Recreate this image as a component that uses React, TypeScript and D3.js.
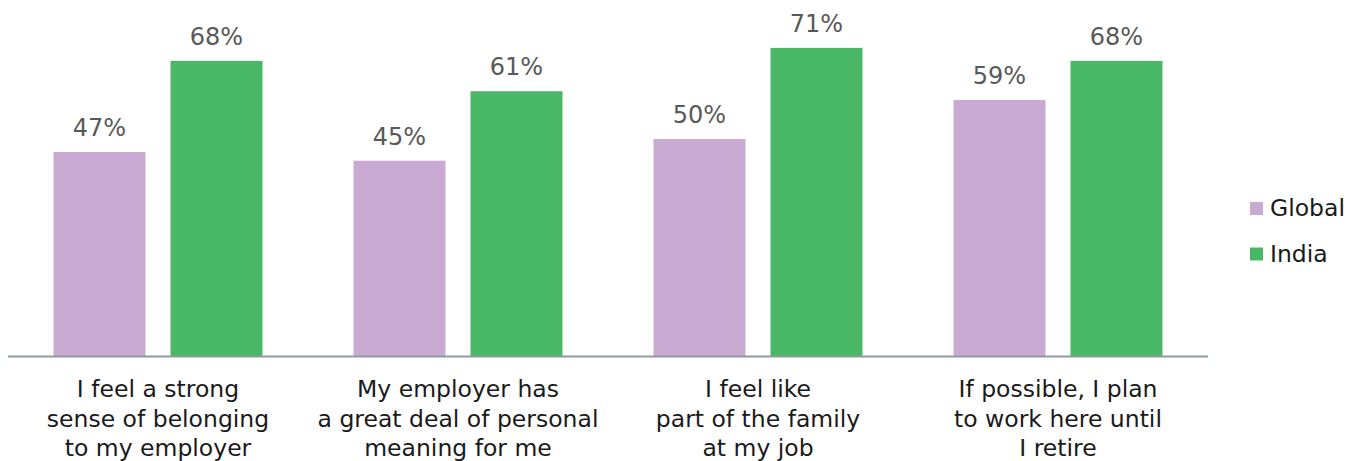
import React from "react";
import * as d3 from "d3";

const categories: string[][] = [
  ["I feel a strong", "sense of belonging", "to my employer"],
  ["My employer has", "a great deal of personal", "meaning for me"],
  ["I feel like", "part of the family", "at my job"],
  ["If possible, I plan", "to work here until", "I retire"],
];
const seriesNames = ["Global", "India"];
const globalValues = [47, 45, 50, 59];
const indiaValues = [68, 61, 71, 68];
const colors = ["#c9aad2", "#48b866"];

const W = 1359;
const H = 461;
const FONT = "'DejaVu Sans', Verdana, sans-serif";

export default function App() {
  const x0 = d3.scaleBand<number>().domain(d3.range(categories.length)).range([8, 1208]).padding(0);
  const x1 = d3
    .scaleBand<string>()
    .domain(seriesNames)
    .range([0, x0.bandwidth()])
    .paddingInner(0.2137)
    .paddingOuter(0.389);
  const y = d3.scaleLinear().domain([0, 80]).range([356, 8.8]);
  const values = [globalValues, indiaValues];

  return (
    <svg
      width={W}
      height={H}
      style={{ position: "absolute", left: 0, top: 0, display: "block" }}
      fontFamily={FONT}
    >
      <rect width={W} height={H} fill="#fff" />
      {categories.map((lines, i) => (
        <g key={i} transform={`translate(${x0(i)},0)`}>
          {seriesNames.map((s, k) => {
            const v = values[k][i];
            const bx = x1(s)!;
            return (
              <g key={s}>
                <rect x={bx} y={y(v)} width={x1.bandwidth()} height={y(0) - y(v)} fill={colors[k]} />
                <text
                  x={bx + x1.bandwidth() / 2}
                  y={y(v) - 16}
                  textAnchor="middle"
                  fontSize={24}
                  fill="#595959"
                >
                  {v}%
                </text>
              </g>
            );
          })}
          {lines.map((ln, j) => (
            <text
              key={j}
              x={x0.bandwidth() / 2}
              y={397 + j * 29.5}
              textAnchor="middle"
              fontSize={23.5}
              fill="#1a1a1a"
            >
              {ln}
            </text>
          ))}
        </g>
      ))}
      <line x1={8} x2={1208} y1={356.5} y2={356.5} stroke="#8e9ba1" strokeWidth={2} />
      {seriesNames.map((s, k) => (
        <g key={s} transform={`translate(1250,${202 + k * 45.5})`}>
          <rect x={0} y={0} width={13} height={13} fill={colors[k]} />
          <text x={20} y={14} fontSize={23.5} fill="#1a1a1a">
            {s}
          </text>
        </g>
      ))}
    </svg>
  );
}
